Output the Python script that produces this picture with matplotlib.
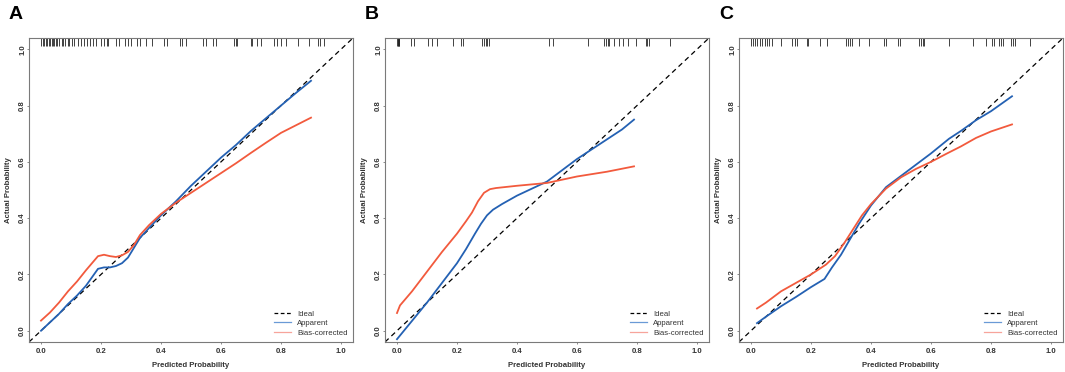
import numpy as np
import matplotlib
matplotlib.use("Agg")
from matplotlib import pyplot as plt
from matplotlib.lines import Line2D

plt.rcParams['font.family'] = ['Liberation Sans', 'DejaVu Sans']

# 面板 A
a_app_x = [0, 0.03, 0.06, 0.09, 0.12, 0.15, 0.17, 0.19, 0.21, 0.23, 0.25, 0.27, 0.29, 0.31, 0.33, 0.36,
           0.4, 0.45, 0.5, 0.55, 0.6, 0.65, 0.7, 0.75, 0.8, 0.85, 0.9]
a_app_y = [0.0, 0.03, 0.06, 0.095, 0.125, 0.16, 0.19, 0.22, 0.225, 0.225, 0.23, 0.24, 0.26, 0.295, 0.33, 0.365,
           0.41, 0.46, 0.515, 0.565, 0.615, 0.66, 0.71, 0.755, 0.80, 0.845, 0.888]
a_bc_x = a_app_x
a_bc_y = [0.036, 0.065, 0.1, 0.14, 0.175, 0.215, 0.24, 0.265, 0.27, 0.265, 0.262, 0.268, 0.28, 0.305, 0.34, 0.375,
          0.415, 0.455, 0.49, 0.525, 0.56, 0.595, 0.632, 0.668, 0.703, 0.73, 0.757]
a_rug = [0.0, 0.005, 0.01, 0.015, 0.02, 0.025, 0.03, 0.035, 0.04, 0.045, 0.05, 0.055, 0.06, 0.07, 0.075, 0.08,
         0.09, 0.095, 0.105, 0.11, 0.125, 0.135, 0.145, 0.155, 0.165, 0.175, 0.185, 0.2, 0.21, 0.22, 0.225,
         0.25, 0.26, 0.28, 0.29, 0.3, 0.32, 0.33, 0.35, 0.37, 0.41, 0.42, 0.465, 0.47, 0.485, 0.54, 0.55,
         0.575, 0.585, 0.645, 0.65, 0.655, 0.7, 0.705, 0.72, 0.735, 0.778, 0.787, 0.8, 0.817, 0.856, 0.895,
         0.923, 0.929, 0.945]

# 面板 B
b_app_x = [0, 0.05, 0.1, 0.15, 0.2, 0.23, 0.26, 0.28, 0.3, 0.32, 0.35, 0.4, 0.45, 0.5, 0.55, 0.6, 0.65, 0.7,
           0.75, 0.79]
b_app_y = [-0.03, 0.035, 0.1, 0.17, 0.24, 0.29, 0.345, 0.38, 0.41, 0.43, 0.45, 0.48, 0.505, 0.53, 0.57, 0.61,
           0.645, 0.68, 0.715, 0.75]
b_bc_x = [0, 0.01, 0.05, 0.1, 0.15, 0.2, 0.23, 0.25, 0.27, 0.29, 0.31, 0.33, 0.4, 0.5, 0.6, 0.7, 0.79]
b_bc_y = [0.063, 0.09, 0.14, 0.21, 0.28, 0.345, 0.389, 0.42, 0.46, 0.49, 0.503, 0.507, 0.515, 0.525, 0.548,
          0.565, 0.584]
b_rug = [0.0, 0.002, 0.004, 0.006, 0.008, 0.045, 0.058, 0.104, 0.115, 0.134, 0.1875, 0.212, 0.22, 0.285,
         0.29, 0.296, 0.30, 0.307, 0.506, 0.521, 0.636, 0.69, 0.698, 0.703, 0.706, 0.723, 0.74, 0.753, 0.77,
         0.796, 0.829, 0.835, 0.84, 0.91]

# 面板 C
c_app_x = [0.02, 0.05, 0.1, 0.15, 0.2, 0.245, 0.27, 0.3, 0.33, 0.36, 0.4, 0.45, 0.5, 0.55, 0.6, 0.66, 0.7,
           0.75, 0.8, 0.87]
c_app_y = [0.027, 0.05, 0.087, 0.12, 0.155, 0.184, 0.225, 0.27, 0.325, 0.38, 0.445, 0.51, 0.55, 0.59, 0.63,
           0.682, 0.71, 0.748, 0.78, 0.833]
c_bc_x = [0.02, 0.05, 0.1, 0.15, 0.2, 0.25, 0.28, 0.31, 0.34, 0.37, 0.4, 0.45, 0.5, 0.55, 0.6, 0.65, 0.7,
          0.75, 0.8, 0.87]
c_bc_y = [0.079, 0.1, 0.14, 0.17, 0.2, 0.235, 0.265, 0.31, 0.36, 0.41, 0.45, 0.505, 0.545, 0.575, 0.6, 0.628,
          0.655, 0.685, 0.708, 0.733]
c_rug = [0.0, 0.007, 0.013, 0.021, 0.03, 0.038, 0.045, 0.052, 0.06, 0.071, 0.101, 0.135, 0.146, 0.152, 0.188,
         0.191, 0.23, 0.252, 0.316, 0.324, 0.331, 0.338, 0.36, 0.394, 0.442, 0.45, 0.489, 0.497, 0.561, 0.567,
         0.572, 0.578, 0.661, 0.739, 0.784, 0.804, 0.809, 0.828, 0.834, 0.839, 0.865, 0.873, 0.881, 0.929]

panels = [
    ("A", a_app_x, a_app_y, a_bc_x, a_bc_y, a_rug),
    ("B", b_app_x, b_app_y, b_bc_x, b_bc_y, b_rug),
    ("C", c_app_x, c_app_y, c_bc_x, c_bc_y, c_rug),
]
ticks = [0.0, 0.2, 0.4, 0.6, 0.8, 1.0]
tick_labels = ["0.0", "0.2", "0.4", "0.6", "0.8", "1.0"]

blue = "#2461b3"
red = "#f25a3d"
frame = "#7a7a7a"
fs = 5.6

fig = plt.figure(figsize=(10.65, 3.72), dpi=100)
lefts = [29, 385, 739]  # 像素位置
for (letter, ax_x, ax_y, bx, by, rug), lp in zip(panels, lefts):
    ax = fig.add_axes([lp / 1065, 30 / 372, 324 / 1065, 304 / 372])
    ax.set_xlim(-0.04, 1.04)
    ax.set_ylim(-0.04, 1.04)
    ax.plot([-0.04, 1.04], [-0.04, 1.04], color="black", lw=0.9, ls=(0, (4, 3)), zorder=2)
    ax.plot(ax_x, ax_y, color=blue, lw=1.3, zorder=3)
    ax.plot(bx, by, color=red, lw=1.3, zorder=3)
    # 顶部 rug
    ax.vlines(rug, 1.013, 1.04, color="#222222", lw=0.6, zorder=2)

    for s in ax.spines.values():
        s.set_color(frame)
        s.set_linewidth(0.8)
    ax.set_xticks(ticks)
    ax.set_xticklabels(tick_labels, fontsize=fs, fontweight="bold", color="#333333")
    ax.set_yticks(ticks)
    ax.set_yticklabels(tick_labels, fontsize=fs, fontweight="bold", color="#333333",
                       rotation=90, va="center")
    ax.tick_params(length=1.5, width=0.6, color=frame)
    ax.tick_params(axis="x", pad=3)
    ax.tick_params(axis="y", pad=0.5)
    ax.set_xlabel("Predicted Probability", fontsize=fs, fontweight="bold", color="#333333", labelpad=5)
    ax.set_ylabel("Actual Probability", fontsize=fs, fontweight="bold", color="#333333", labelpad=5)

    handles = [Line2D([], [], color="black", lw=0.9, ls=(0, (3, 2))),
               Line2D([], [], color="#6a9ad6", lw=0.9),
               Line2D([], [], color="#f7a49b", lw=0.9)]
    ax.legend(handles, ["Ideal", "Apparent", "Bias-corrected"], loc="lower right", frameon=False,
              fontsize=fs, handlelength=2.2, handletextpad=0.8, labelspacing=0.25,
              borderaxespad=0.3, labelcolor="#333333")

    fig.text((lp - 20) / 1065, 1 - 6 / 372, letter, fontsize=14, fontweight="bold",
             ha="left", va="top")

fig.savefig("out.png", dpi=100)
